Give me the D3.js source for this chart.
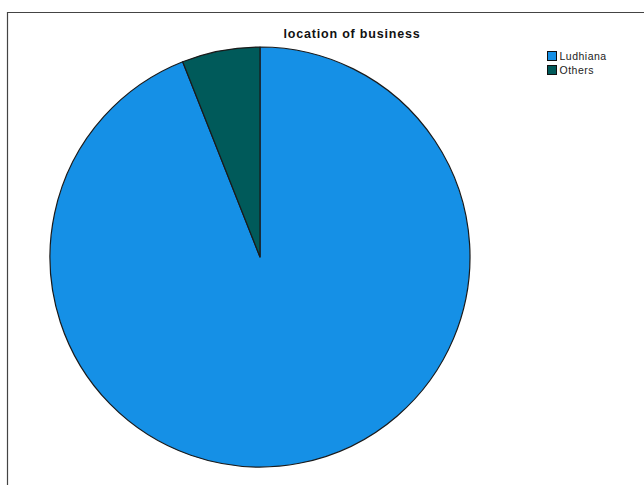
<!DOCTYPE html>
<html>
<head>
<meta charset="utf-8">
<script src="https://cdn.jsdelivr.net/npm/d3@7"></script>
<style>
  html, body { margin: 0; padding: 0; background: #fff; }
  svg { display: block; }
</style>
</head>
<body>
<svg id="chart" width="644" height="485"></svg>
<script>
// Share of businesses by location (percent)
const categories = ["Ludhiana", "Others"];
const values = [94, 6];
const colors = ["#1590e6", "#005a5a"];
const title = "location of business";

const svg = d3.select("#chart");

// frame
svg.append("path")
  .attr("d", "M7.5,485 L7.5,12.5 L644,12.5")
  .attr("fill", "none")
  .attr("stroke", "#444")
  .attr("stroke-width", 1.2);

svg.append("text")
  .attr("x", 352)
  .attr("y", 38)
  .attr("text-anchor", "middle")
  .attr("font-family", "Liberation Sans, Arial, sans-serif")
  .attr("font-size", 12.5)
  .attr("font-weight", "bold")
  .attr("letter-spacing", 0.8)
  .attr("fill", "#111")
  .text(title);

const color = d3.scaleOrdinal().domain(categories).range(colors);

// first slice runs clockwise from 12 o'clock
const pie = d3.pie().sort(null).value(d => d.v);
const data = categories.map((c, i) => ({ c, v: values[i] }));
const arcs = pie(data);
const arc = d3.arc().innerRadius(0).outerRadius(210);

svg.append("g")
  .attr("transform", "translate(260,257)")
  .selectAll("path")
  .data(arcs)
  .join("path")
  .attr("d", arc)
  .attr("fill", d => color(d.data.c))
  .attr("stroke", "#1a1a1a")
  .attr("stroke-width", 1.2)
  .attr("stroke-linejoin", "round");

// legend
const legend = svg.append("g").attr("transform", "translate(547,51)");
const item = legend.selectAll("g")
  .data(categories)
  .join("g")
  .attr("transform", (d, i) => `translate(0,${i * 14})`);
item.append("rect")
  .attr("x", 0.5).attr("y", 0.5)
  .attr("width", 9).attr("height", 9)
  .attr("fill", d => color(d))
  .attr("stroke", "#111")
  .attr("stroke-width", 1);
item.append("text")
  .attr("x", 12.5)
  .attr("y", 8.5)
  .attr("font-family", "Liberation Sans, Arial, sans-serif")
  .attr("font-size", 10.5)
  .attr("letter-spacing", 0.5)
  .attr("fill", "#222")
  .text(d => d);
</script>
</body>
</html>
